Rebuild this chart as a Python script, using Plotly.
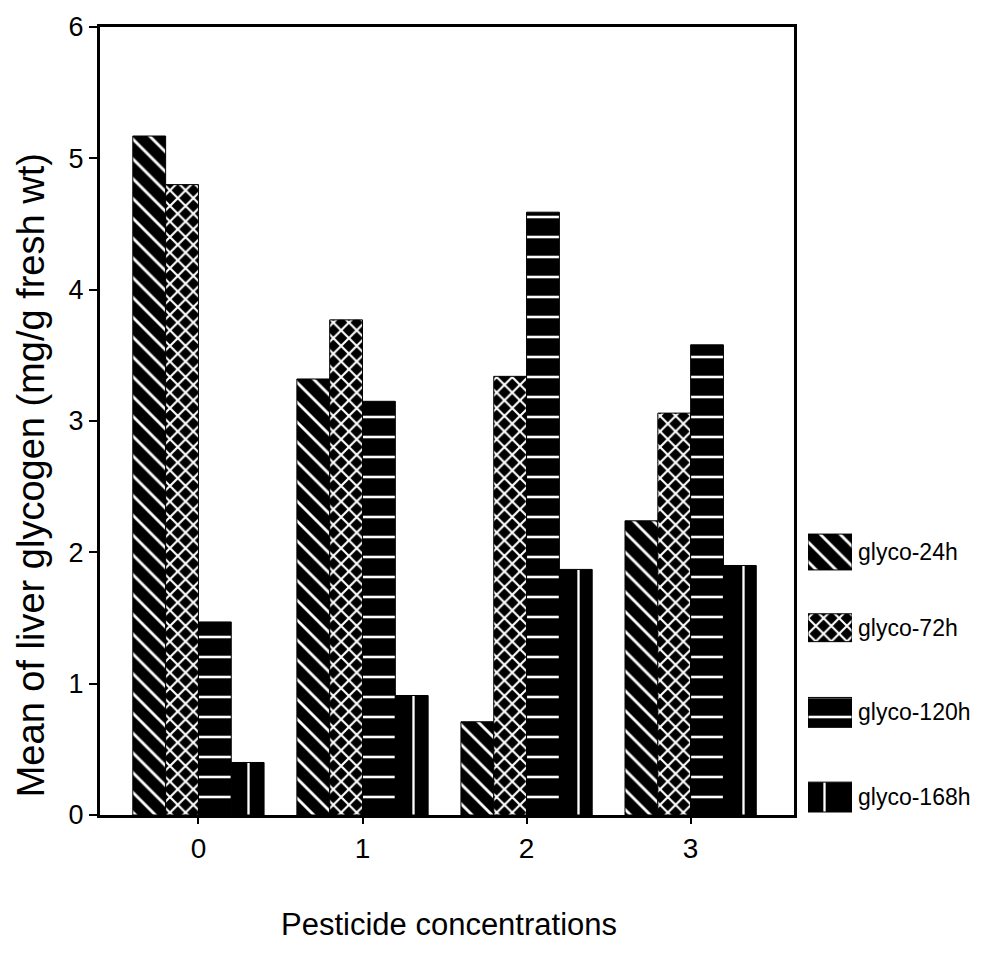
import plotly.graph_objects as go

# ---- data ----
categories = [0, 1, 2, 3]
glyco_24h = [5.17, 3.32, 0.71, 2.24]
glyco_72h = [4.80, 3.77, 3.34, 3.06]
glyco_120h = [1.47, 3.15, 4.59, 3.58]
glyco_168h = [0.40, 0.91, 1.87, 1.90]
series_names = ["glyco-24h", "glyco-72h", "glyco-120h", "glyco-168h"]
y_ticks = [0, 1, 2, 3, 4, 5, 6]

# ---- styles ----
FONT = "Liberation Sans, Arial, Helvetica, sans-serif"
patterns = [
    dict(shape="\\", size=14, solidity=0.2),
    dict(shape="x", size=11, solidity=0.35),
    dict(shape="-", size=20, solidity=0.13),
    dict(shape="|", size=33, solidity=0.07),
]
values = [glyco_24h, glyco_72h, glyco_120h, glyco_168h]

fig = go.Figure()
for name, vals, pat in zip(series_names, values, patterns):
    fig.add_trace(go.Bar(
        x=categories, y=vals, name=name,
        marker=dict(color="black",
                    line=dict(color="black", width=1),
                    pattern=dict(shape=pat["shape"], size=pat["size"],
                                 solidity=pat["solidity"], fgcolor="white",
                                 bgcolor="black", fillmode="replace")),
        showlegend=False, xaxis="x", yaxis="y",
    ))

# legend swatches drawn as bars on a helper axis (pixel-like coordinates)
swatch_centers = [551, 627, 712, 797]
swatch_heights = [36, 28, 30, 30]
for name, pat, yc, h in zip(series_names, patterns, swatch_centers, swatch_heights):
    fig.add_trace(go.Bar(
        x=[1], y=[yc], width=[h], orientation="h", base=0,
        marker=dict(color="black", line=dict(color="black", width=1),
                    pattern=dict(shape=pat["shape"], size=pat["size"],
                                 solidity=pat["solidity"], fgcolor="white",
                                 bgcolor="black", fillmode="replace")),
        showlegend=False, xaxis="x2", yaxis="y2", hoverinfo="skip",
    ))

annotations = []
for name, yc in zip(series_names, swatch_centers):
    annotations.append(dict(text=name, x=(856 - 100) / 880, xref="paper",
                            y=yc, yref="y2", xanchor="left", yanchor="middle",
                            showarrow=False, font=dict(family=FONT, size=23, color="black")))

annotations.append(dict(text="Mean of liver glycogen (mg/g fresh wt)", textangle=-90,
                        x=(31 - 100) / 880, xref="paper", y=(815 - 474) / 791, yref="paper",
                        xanchor="center", yanchor="middle", showarrow=False,
                        font=dict(family=FONT, size=38, color="black")))
annotations.append(dict(text="Pesticide concentrations",
                        x=(449 - 100) / 880, xref="paper", y=(815 - 925) / 791, yref="paper",
                        xanchor="center", yanchor="middle", showarrow=False,
                        font=dict(family=FONT, size=31, color="black")))

fig.update_layout(
    width=992, height=956,
    margin=dict(l=100, r=12, t=24, b=141),
    paper_bgcolor="white", plot_bgcolor="white",
    barmode="group", bargap=0.2, bargroupgap=0,
    font=dict(family=FONT, color="black"),
    xaxis=dict(domain=[0, (794 - 100) / 880], range=[-0.6, 3.63],
               tickvals=categories, ticktext=[str(c) for c in categories],
               ticks="outside", ticklen=6, tickwidth=2, tickcolor="black",
               showline=True, linecolor="black", linewidth=3, mirror=True,
               showgrid=False, zeroline=False,
               tickfont=dict(family=FONT, size=28, color="black")),
    yaxis=dict(range=[0, 6], tickvals=y_ticks, ticks="outside", ticklen=8,
               tickwidth=2, tickcolor="black",
               showline=True, linecolor="black", linewidth=3, mirror=True,
               showgrid=False, zeroline=False,
               tickfont=dict(family=FONT, size=27, color="black")),
    xaxis2=dict(domain=[(808 - 100) / 880, (852 - 100) / 880], range=[0, 1],
                visible=False, fixedrange=True),
    yaxis2=dict(domain=[0, 1], range=[815, 24], visible=False, fixedrange=True,
                anchor="x2"),
    annotations=annotations,
)

fig.write_html("out.html", config={"displayModeBar": False},
               post_script="document.body.style.margin='0';document.body.style.padding='0';")
